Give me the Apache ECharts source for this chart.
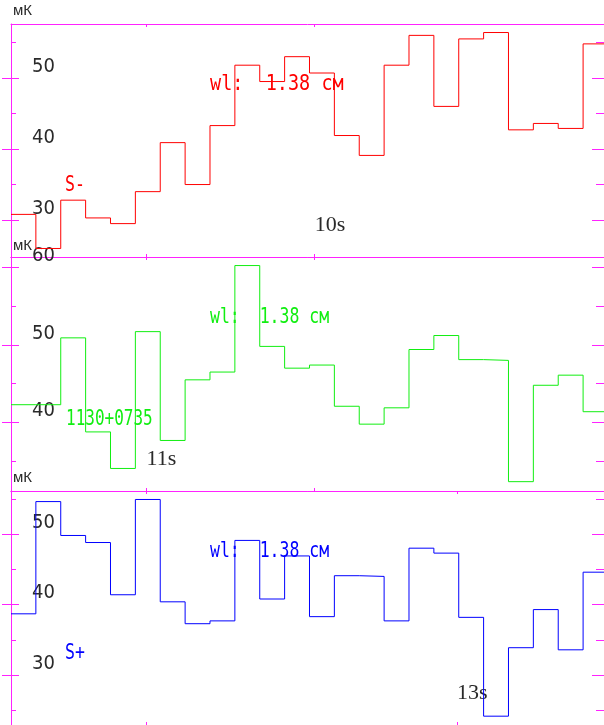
<!DOCTYPE html>
<html>
<head>
<meta charset="utf-8">
<script src="https://cdn.jsdelivr.net/npm/echarts@6/dist/echarts.min.js"></script>
<style>
html,body{margin:0;padding:0;background:#ffffff;}
#c{width:604px;height:725px;}
</style>
</head>
<body>
<div id="c"></div>
<script>
// sample positions (step edges)
const sampleIndex = [0,1,2,3,4,5,6,7,8,9,10,11,12,13,14,15,16,17,18,19,20,21,22,23,24];

// panel 1: S-  (mK)
const sMinus = [30.8,26.0,32.8,30.3,29.5,34.0,40.9,35.0,43.3,51.8,49.5,53.0,50.7,41.9,39.1,51.8,56.0,46.0,55.5,56.4,42.7,43.6,42.9,54.8];
// panel 2: 1130+0735 (mK)
const iTotal = [42.3,42.3,50.9,38.8,34.1,51.7,37.7,45.5,46.5,60.2,49.8,47.0,47.4,42.1,39.8,41.9,49.4,51.2,48.1,48.0,32.4,44.8,46.1,41.4];
// panel 3: S+ (mK)
const sPlus = [38.7,54.6,49.8,48.8,41.4,54.9,40.4,37.3,37.7,49.1,40.8,46.9,38.3,44.1,44.0,37.7,48.0,47.3,38.2,24.2,33.9,39.3,33.6,44.6];

// y tick values
const majorTicks1 = [30,40,50];
const minorTicks1 = [35,45,55];
const majorTicks2 = [40,50,60];
const minorTicks2 = [35,45,55];
const majorTicks3 = [30,40,50];
const minorTicks3 = [25,35,45,55];

// time marks (in sample units) and their labels
const timeTicks1 = [5.45,12.21];
const timeTicks2 = [5.45,12.21];
const timeTicks3 = [5.45,17.93];
const timeLabelPos1 = [12.21];
const timeLabelPos2 = [5.45];
const timeLabelPos3 = [17.93];
const timeLabel1 = '10s';
const timeLabel2 = '11s';
const timeLabel3 = '13s';

// annotation texts
const unitText = 'мК';
const wlText = 'wl:  1.38 см';
const nameTop = 'S-';
const nameMid = '1130+0735';
const nameBot = 'S+';

const MAG = '#ff22ff';
const RED = '#ff0000';
const GREEN = '#11ee11';
const BLUE = '#0000ff';
const INK = '#2a2a2a';

const panels = [
  {vals:sMinus, color:RED, top:24, height:233, min:24.8, max:57.6, major:majorTicks1, minor:minorTicks1, tt:timeTicks1, lp:timeLabelPos1, lab:timeLabel1},
  {vals:iTotal, color:GREEN, top:257, height:234, min:31.2, max:61.3, major:majorTicks2, minor:minorTicks2, tt:timeTicks2, lp:timeLabelPos2, lab:timeLabel2},
  {vals:sPlus, color:BLUE, top:491, height:234, min:22.95, max:56.1, major:majorTicks3, minor:minorTicks3, tt:timeTicks3, lp:timeLabelPos3, lab:timeLabel3}
];

const grid = [], xAxis = [], yAxis = [], series = [];
panels.forEach((p, i) => {
  grid.push({left:11, right:0, top:p.top, height:p.height, containLabel:false});
  const xBase = {
    type:'value', gridIndex:i, min:0, max:23.84,
    splitLine:{show:false},
    axisLine:{show:true, onZero:false, lineStyle:{color:MAG, width:1}},
    axisTick:{show:true, inside:true, length:3, customValues:p.tt, lineStyle:{color:MAG, width:1}}
  };
  xAxis.push(Object.assign({}, xBase, {
    position:'bottom',
    axisLabel:{show:true, inside:true, customValues:p.lp, formatter:() => p.lab,
      margin:32, align:'left', verticalAlign:'middle', color:INK,
      fontFamily:'"Liberation Serif", serif', fontSize:22}
  }));
  xAxis.push(Object.assign({}, xBase, {position:'top', axisLabel:{show:false}}));

  const yBase = {type:'value', gridIndex:i, min:p.min, max:p.max,
    splitLine:{show:false}, axisLabel:{show:false},
    axisLine:{show:false, onZero:false}};
  yAxis.push(Object.assign({}, yBase, {
    position:'left',
    axisLine:{show:true, onZero:false, lineStyle:{color:MAG, width:1}},
    axisTick:{show:true, inside:true, length:8, customValues:p.major, lineStyle:{color:MAG}},
    axisLabel:{show:true, inside:true, customValues:p.major, margin:21, align:'left',
      verticalAlign:'bottom', lineHeight:23, color:INK,
      fontFamily:'"Liberation Sans Narrow", "DejaVu Sans Condensed", sans-serif', fontSize:20}
  }));
  yAxis.push(Object.assign({}, yBase, {position:'left',
    axisTick:{show:true, inside:false, length:9, customValues:p.major, lineStyle:{color:MAG}}}));
  yAxis.push(Object.assign({}, yBase, {position:'left',
    axisTick:{show:true, inside:true, length:5, customValues:p.minor, lineStyle:{color:MAG}}}));
  yAxis.push(Object.assign({}, yBase, {position:'right',
    axisTick:{show:true, inside:true, length:12, customValues:p.major, lineStyle:{color:MAG}}}));
  yAxis.push(Object.assign({}, yBase, {position:'right',
    axisTick:{show:true, inside:true, length:8, customValues:p.minor, lineStyle:{color:MAG}}}));

  const data = p.vals.map((v, k) => [sampleIndex[k], v]);
  data.push([sampleIndex[p.vals.length], p.vals[p.vals.length - 1]]);
  series.push({
    type:'line', xAxisIndex:2*i, yAxisIndex:5*i, step:'end', symbol:'none',
    showSymbol:false, clip:true, data:data,
    lineStyle:{color:p.color, width:1}, itemStyle:{color:p.color},
    emphasis:{disabled:true}
  });
});

function txt(x, y, text, color, size, family, sy) {
  return {type:'text', x:x, y:y, scaleY:sy || 1, z:10,
    style:{text:text, x:0, y:0, fill:color, fontSize:size, fontFamily:family,
      align:'left', verticalAlign:'middle'}};
}
const MONO = '"DejaVu Sans Mono", monospace';
const SANS = '"Liberation Sans", sans-serif';

const graphic = [
  txt(13, 11, unitText, INK, 15, SANS),
  txt(13, 246, unitText, INK, 15, SANS),
  txt(13, 478, unitText, INK, 15, SANS),
  txt(210, 85, wlText, RED, 18.5, MONO, 1.1),
  txt(210, 318, wlText, GREEN, 16.5, MONO, 1.25),
  txt(210, 552, wlText, BLUE, 16.5, MONO, 1.25),
  txt(65, 185, nameTop, RED, 16.5, MONO, 1.3),
  txt(66, 419.5, nameMid, GREEN, 16, MONO, 1.35),
  txt(65, 653, nameBot, BLUE, 16.5, MONO, 1.3)
];

const chart = echarts.init(document.getElementById('c'), null, {renderer:'canvas'});
chart.setOption({
  backgroundColor:'#ffffff',
  animation:false,
  grid:grid, xAxis:xAxis, yAxis:yAxis, series:series, graphic:graphic
});
</script>
</body>
</html>
